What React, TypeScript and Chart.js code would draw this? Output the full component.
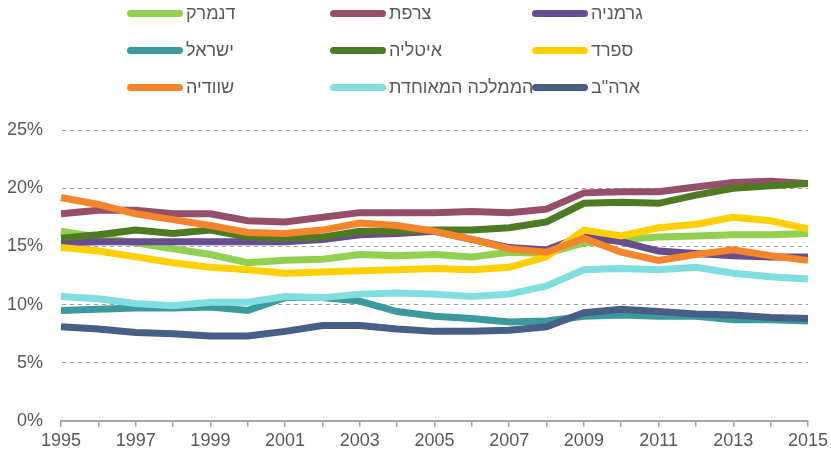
import React, { useEffect, useRef } from "react";
import { Chart, registerables } from "chart.js";

Chart.register(...registerables);

const years = ["1995","1996","1997","1998","1999","2000","2001","2002","2003","2004","2005","2006","2007","2008","2009","2010","2011","2012","2013","2014","2015"];

const seriesNames = ["דנמרק", "צרפת", "גרמניה", "ישראל", "איטליה", "ספרד", "שוודיה", "הממלכה המאוחדת", 'ארה"ב'];
const seriesColors = ["#92D050", "#954F6B", "#674C8F", "#3A9A9E", "#4D7A22", "#FFD000", "#F5842A", "#80DEDE", "#475E87"];

const denmark = [16.3, 15.8, 15.3, 14.8, 14.3, 13.6, 13.8, 13.9, 14.3, 14.2, 14.3, 14.1, 14.5, 14.4, 15.3, 15.6, 15.8, 15.9, 16.0, 16.0, 16.1];
const france = [17.8, 18.1, 18.1, 17.8, 17.8, 17.2, 17.1, 17.5, 17.9, 17.9, 17.9, 18.0, 17.9, 18.2, 19.6, 19.7, 19.7, 20.1, 20.5, 20.6, 20.4];
const germany = [15.3, 15.4, 15.4, 15.4, 15.4, 15.4, 15.4, 15.6, 16.0, 16.1, 16.3, 15.6, 14.9, 14.7, 15.9, 15.4, 14.6, 14.4, 14.2, 14.1, 14.1];
const israel = [9.5, 9.6, 9.7, 9.7, 9.8, 9.5, 10.6, 10.6, 10.3, 9.4, 9.0, 8.8, 8.5, 8.6, 9.0, 9.1, 9.0, 9.0, 8.7, 8.7, 8.6];
const italy = [15.7, 16.0, 16.4, 16.1, 16.4, 15.8, 15.7, 15.8, 16.3, 16.3, 16.4, 16.4, 16.6, 17.1, 18.7, 18.8, 18.7, 19.4, 20.0, 20.2, 20.4];
const spain = [14.9, 14.6, 14.1, 13.6, 13.2, 13.0, 12.7, 12.8, 12.9, 13.0, 13.1, 13.0, 13.2, 14.1, 16.4, 15.9, 16.6, 16.9, 17.5, 17.2, 16.5];
const sweden = [19.2, 18.6, 17.8, 17.3, 16.8, 16.2, 16.1, 16.4, 17.0, 16.8, 16.3, 15.6, 14.8, 14.5, 15.7, 14.5, 13.8, 14.3, 14.7, 14.2, 13.8];
const uk = [10.7, 10.5, 10.1, 9.9, 10.2, 10.2, 10.7, 10.6, 10.9, 11.0, 10.9, 10.7, 10.9, 11.6, 13.0, 13.1, 13.0, 13.2, 12.7, 12.4, 12.2];
const usa = [8.1, 7.9, 7.6, 7.5, 7.3, 7.3, 7.7, 8.2, 8.2, 7.9, 7.7, 7.7, 7.8, 8.1, 9.3, 9.6, 9.4, 9.2, 9.1, 8.9, 8.8];

const seriesValues = [denmark, france, germany, israel, italy, spain, sweden, uk, usa];

const FONT = "'Liberation Sans', Arial, sans-serif";
const TEXT = "#595959";

const legendCols = [127, 330, 532];
const legendRows = [13, 50, 87];

export default function App() {
  const ref = useRef<HTMLCanvasElement | null>(null);

  useEffect(() => {
    if (!ref.current) return;
    const chart = new Chart(ref.current, {
      type: "line",
      data: {
        labels: years,
        datasets: seriesNames.map((name, i) => ({
          label: name,
          data: seriesValues[i],
          borderColor: seriesColors[i],
          backgroundColor: seriesColors[i],
          borderWidth: 7,
          pointRadius: 0,
          tension: 0,
          fill: false,
          order: seriesNames.length - i,
        })),
      },
      options: {
        animation: false,
        responsive: false,
        maintainAspectRatio: false,
        layout: { padding: { top: 130, right: 22, left: 0, bottom: 0 } },
        plugins: { legend: { display: false }, tooltip: { enabled: false } },
        scales: {
          x: {
            type: "category",
            offset: false,
            afterFit: (s: any) => { s.height = 33; },
            grid: { drawOnChartArea: false, drawTicks: true, tickLength: 6, color: "#A6A6A6", lineWidth: 1.5 },
            border: { display: true, color: "#A6A6A6", width: 2 },
            ticks: {
              autoSkip: false,
              maxRotation: 0,
              padding: 3,
              color: TEXT,
              font: { family: FONT, size: 18 },
              callback: (_v: any, idx: number) => (idx % 2 === 0 ? years[idx] : ""),
            },
          },
          y: {
            min: 0,
            max: 25,
            afterFit: (s: any) => { s.width = 61; },
            grid: {
              drawTicks: false,
              color: (ctx: any) => (ctx.tick && ctx.tick.value === 0 ? "rgba(0,0,0,0)" : "#A0A0A0"),
              lineWidth: 1,
              borderDash: [4, 4],
            } as any,
            border: { display: true, color: "rgba(0,0,0,0)", width: 1, dash: [4, 4] },
            ticks: {
              stepSize: 5,
              padding: 18,
              color: TEXT,
              font: { family: FONT, size: 18 },
              callback: (v: any) => v + "%",
            },
          },
        },
      },
    });
    return () => chart.destroy();
  }, []);

  return (
    <div style={{ position: "fixed", left: 0, top: 0, width: 831, height: 454, background: "#fff" }}>
      <canvas ref={ref} width={831} height={454} style={{ position: "absolute", left: 0, top: 0, width: 831, height: 454 }} />
      {seriesNames.map((name, i) => {
        const col = i % 3;
        const row = Math.floor(i / 3);
        const left = legendCols[col];
        const cy = legendRows[row];
        return (
          <div key={name}>
            <div
              style={{
                position: "absolute",
                left,
                top: cy - 3.5,
                width: 56,
                height: 7,
                borderRadius: 3.5,
                background: seriesColors[i],
              }}
            />
            <span
              dir="rtl"
              style={{
                position: "absolute",
                left: left + 59,
                top: cy - 11,
                fontFamily: FONT,
                fontSize: 18,
                lineHeight: "22px",
                color: TEXT,
                whiteSpace: "nowrap",
              }}
            >
              {name}
            </span>
          </div>
        );
      })}
    </div>
  );
}
